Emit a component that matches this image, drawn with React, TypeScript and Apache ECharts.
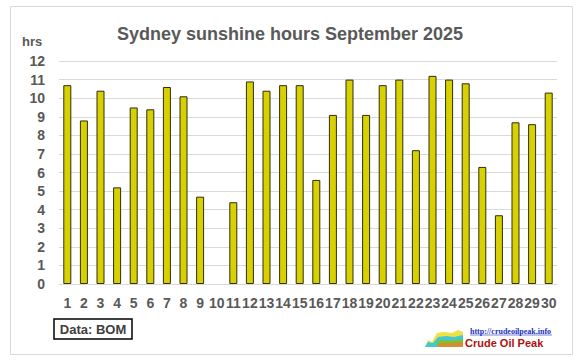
import React, { useEffect, useRef } from "react";
import * as echarts from "echarts";

const days: string[] = Array.from({ length: 30 }, (_, i) => String(i + 1));
const sunshineHours: (number | null)[] = [
  10.7, 8.8, 10.4, 5.2, 9.5, 9.4, 10.6, 10.1, 4.7, null,
  4.4, 10.9, 10.4, 10.7, 10.7, 5.6, 9.1, 11.0, 9.1, 10.7,
  11.0, 7.2, 11.2, 11.0, 10.8, 6.3, 3.7, 8.7, 8.6, 10.3,
];
const yTicks = { min: 0, max: 12, interval: 1 };
const titleText = "Sydney sunshine hours September 2025";
const unitText = "hrs";
const sourceText = "Data: BOM";
const logoUrl = "http://crudeoilpeak.info";
const logoName = "Crude Oil Peak";

export default function App() {
  const ref = useRef<HTMLDivElement>(null);
  useEffect(() => {
    if (!ref.current) return;
    const chart = echarts.init(ref.current, null, { renderer: "svg" });
    const gray = "#595959";
    chart.setOption({
      animation: false,
      backgroundColor: "#ffffff",
      title: {
        text: titleText,
        left: "center",
        top: 20,
        textStyle: {
          fontFamily: "Liberation Sans, Arial, sans-serif",
          fontWeight: "bold",
          fontSize: 18,
          color: gray,
        },
      },
      grid: { left: 59, right: 23, top: 61, bottom: 79 },
      xAxis: {
        type: "category",
        data: days,
        axisLine: { lineStyle: { color: "#d9d9d9", width: 1 } },
        axisTick: { show: false },
        axisLabel: {
          interval: 0,
          margin: 12,
          color: gray,
          fontWeight: "bold",
          fontSize: 14,
          fontFamily: "Liberation Sans, Arial, sans-serif",
        },
      },
      yAxis: {
        type: "value",
        min: yTicks.min,
        max: yTicks.max,
        interval: yTicks.interval,
        axisLine: { show: false },
        axisTick: { show: false },
        splitLine: { lineStyle: { color: "#d9d9d9", width: 1 } },
        axisLabel: {
          margin: 14,
          color: gray,
          fontWeight: "bold",
          fontSize: 14,
          fontFamily: "Liberation Sans, Arial, sans-serif",
        },
      },
      series: [
        {
          type: "bar",
          data: sunshineHours,
          barWidth: 8,
          itemStyle: { color: "#d8d000", borderColor: "#2e2e10", borderWidth: 1 },
        },
      ],
      graphic: [
        {
          type: "rect",
          shape: { x: 10.5, y: 6.5, width: 562, height: 348 },
          style: { fill: "none", stroke: "#d9d9d9", lineWidth: 1 },
          silent: true,
        },
        {
          type: "text",
          left: 22,
          top: 35,
          style: {
            text: unitText,
            fill: gray,
            font: "bold 13px 'Liberation Sans', Arial, sans-serif",
          },
        },
        {
          type: "rect",
          shape: { x: 54, y: 319, width: 78, height: 20 },
          style: { fill: "#ffffff", stroke: "#000000", lineWidth: 1.5 },
        },
        {
          type: "text",
          x: 93,
          y: 329,
          style: {
            text: sourceText,
            fill: "#404040",
            font: "bold 13px 'Liberation Sans', Arial, sans-serif",
            align: "center",
            verticalAlign: "middle",
          },
        },
        {
          type: "polygon",
          shape: { points: [[425, 347], [428, 340], [432, 342], [437, 333], [444, 332], [452, 333], [458, 330], [463, 332], [463, 347]] },
          style: { fill: "#f0e040" },
        },
        {
          type: "polygon",
          shape: { points: [[425, 347], [428, 342], [433, 343], [438, 337], [446, 336], [454, 337], [463, 335], [463, 347]] },
          style: { fill: "#40c8d8" },
        },
        {
          type: "polygon",
          shape: { points: [[436, 347], [438, 340], [446, 340], [454, 340], [463, 339], [463, 347]] },
          style: { fill: "#7cc040" },
        },
        {
          type: "polygon",
          shape: { points: [[438, 347], [440, 343], [450, 343], [463, 342], [463, 347]] },
          style: { fill: "#d09030" },
        },
        {
          type: "text",
          x: 470,
          y: 331,
          style: {
            text: logoUrl,
            fill: "#2030c0",
            font: "bold 8px 'Liberation Serif', serif",
            verticalAlign: "middle",
          },
        },
        {
          type: "line",
          shape: { x1: 470, y1: 335, x2: 552, y2: 335 },
          style: { stroke: "#2030c0", lineWidth: 0.6 },
        },
        {
          type: "text",
          x: 465,
          y: 343,
          style: {
            text: logoName,
            fill: "#b01010",
            font: "bold 11px 'Liberation Sans', Arial, sans-serif",
            verticalAlign: "middle",
          },
        },
      ],
    });
    return () => chart.dispose();
  }, []);
  return (
    <div
      ref={ref}
      style={{ position: "fixed", left: 0, top: 0, width: 580, height: 363 }}
    />
  );
}
